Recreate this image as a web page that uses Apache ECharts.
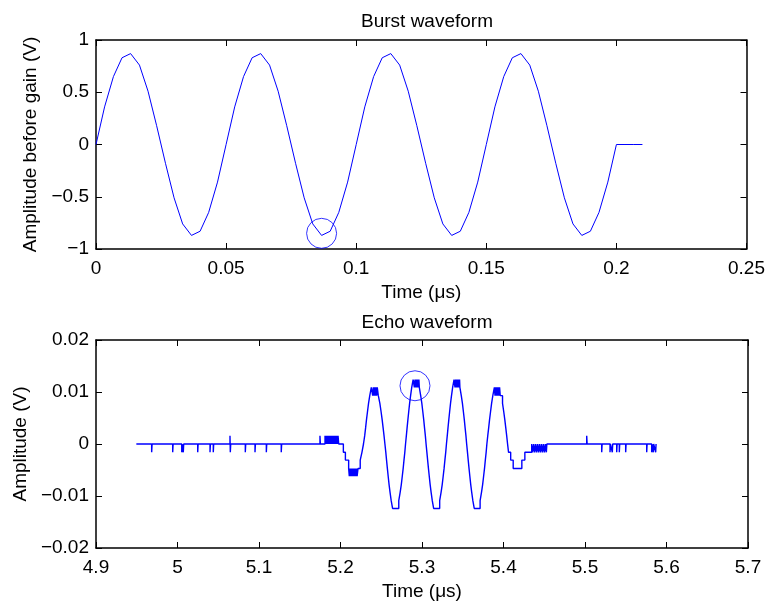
<!DOCTYPE html>
<html><head><meta charset="utf-8">
<script src="https://cdn.jsdelivr.net/npm/echarts/dist/echarts.min.js"></script>
<style>html,body{margin:0;padding:0;background:#fff}#c{width:768px;height:603px}</style>
</head><body><div id="c"></div>
<script>
// ---------- Burst waveform (top) ----------
const burstTime = [
  0.0000, 0.0033, 0.0067, 0.0100, 0.0133, 0.0167, 0.0200, 0.0233, 0.0267, 0.0300,
  0.0333, 0.0367, 0.0400, 0.0433, 0.0467, 0.0500, 0.0533, 0.0567, 0.0600, 0.0633,
  0.0667, 0.0700, 0.0733, 0.0767, 0.0800, 0.0833, 0.0867, 0.0900, 0.0933, 0.0967,
  0.1000, 0.1033, 0.1067, 0.1100, 0.1133, 0.1167, 0.1200, 0.1233, 0.1267, 0.1300,
  0.1333, 0.1367, 0.1400, 0.1433, 0.1467, 0.1500, 0.1533, 0.1567, 0.1600, 0.1633,
  0.1667, 0.1700, 0.1733, 0.1767, 0.1800, 0.1833, 0.1867, 0.1900, 0.1933, 0.1967,
  0.2000, 0.2033, 0.2067, 0.2100
];
const burstAmp = [
  0.00, 0.36, 0.65, 0.83, 0.87, 0.76, 0.51, 0.18, -0.18, -0.51,
  -0.76, -0.87, -0.83, -0.65, -0.36, 0.00, 0.36, 0.65, 0.83, 0.87,
  0.76, 0.51, 0.18, -0.18, -0.51, -0.76, -0.87, -0.83, -0.65, -0.36,
  0.00, 0.36, 0.65, 0.83, 0.87, 0.76, 0.51, 0.18, -0.18, -0.51,
  -0.76, -0.87, -0.83, -0.65, -0.36, 0.00, 0.36, 0.65, 0.83, 0.87,
  0.76, 0.51, 0.18, -0.18, -0.51, -0.76, -0.87, -0.83, -0.65, -0.36,
  0.00, 0.00, 0.00, 0.00
];
const burstMarkT = [0.0867];
const burstMarkV = [-0.85];
const burstXTicks = [0, 0.05, 0.1, 0.15, 0.2, 0.25];
const burstYTicks = [-1, -0.5, 0, 0.5, 1];

// ---------- Echo waveform (bottom), [time µs, amplitude V] ----------
const echoLead = [
  [4.9495, 0], [4.9683, -0.0016], [4.9688, 0], [4.9941, -0.0016], [4.9946, 0],
  [5.0052, -0.0016], [5.0057, 0], [5.0071, -0.0016], [5.0076, 0],
  [5.0248, -0.0016], [5.0253, 0], [5.0399, -0.0016], [5.0404, 0],
  [5.0439, -0.0016], [5.0444, 0], [5.0644, 0.0016], [5.0648, -0.0016], [5.0653, 0],
  [5.0832, -0.0016], [5.0837, 0], [5.0951, -0.0016], [5.0956, 0],
  [5.1090, -0.0016], [5.1095, 0], [5.1273, -0.0016], [5.1278, 0],
  [5.1748, 0.0016], [5.1753, 0],
  [5.1810, 0.0016], [5.1818, 0], [5.1826, 0.0016], [5.1834, 0], [5.1842, 0.0016],
  [5.1850, 0], [5.1858, 0.0016], [5.1866, 0], [5.1874, 0.0016], [5.1882, 0],
  [5.1890, 0.0016], [5.1898, 0], [5.1906, 0.0016], [5.1914, 0], [5.1922, 0.0016],
  [5.1930, 0], [5.1938, 0.0016], [5.1946, 0], [5.1954, 0.0016], [5.1962, 0],
  [5.1970, 0.0016], [5.1978, 0]
];
const echoBurst = [
  [5.2035, -0.0016], [5.2060, -0.0031], [5.2100, -0.0047],
  [5.2108, -0.0062], [5.2116, -0.0047], [5.2124, -0.0062], [5.2132, -0.0047],
  [5.2140, -0.0062], [5.2148, -0.0047], [5.2156, -0.0062], [5.2164, -0.0047],
  [5.2172, -0.0062], [5.2180, -0.0047], [5.2188, -0.0062], [5.2196, -0.0047],
  [5.2204, -0.0062], [5.2215, -0.0047],
  [5.2242, -0.0031], [5.2263, -0.0016], [5.2282, 0], [5.2297, 0.0016], [5.2308, 0.0031],
  [5.2319, 0.0047], [5.2331, 0.0062], [5.2344, 0.0078], [5.2359, 0.0093], [5.2378, 0.0109],
  [5.2395, 0.0093], [5.2403, 0.0109], [5.2411, 0.0093], [5.2419, 0.0109], [5.2427, 0.0093],
  [5.2435, 0.0109], [5.2443, 0.0093], [5.2451, 0.0109],
  [5.2464, 0.0093], [5.2483, 0.0078], [5.2498, 0.0062], [5.2511, 0.0047], [5.2523, 0.0031],
  [5.2534, 0.0016], [5.2545, 0], [5.2556, -0.0016], [5.2565, -0.0031], [5.2575, -0.0047],
  [5.2585, -0.0062], [5.2596, -0.0078], [5.2608, -0.0093], [5.2622, -0.0109], [5.2639, -0.0124],
  [5.2715, -0.0109], [5.2732, -0.0093], [5.2746, -0.0078], [5.2758, -0.0062], [5.2769, -0.0047],
  [5.2779, -0.0031], [5.2789, -0.0016], [5.2798, 0], [5.2808, 0.0016], [5.2817, 0.0031],
  [5.2827, 0.0047], [5.2837, 0.0062], [5.2848, 0.0078], [5.2860, 0.0093], [5.2874, 0.0109],
  [5.2891, 0.0124], [5.2906, 0.0109], [5.2914, 0.0124], [5.2922, 0.0109], [5.2930, 0.0124],
  [5.2938, 0.0109], [5.2946, 0.0124], [5.2954, 0.0109], [5.2962, 0.0124],
  [5.2967, 0.0109], [5.2984, 0.0093], [5.2998, 0.0078], [5.3010, 0.0062], [5.3021, 0.0047],
  [5.3031, 0.0031], [5.3041, 0.0016], [5.3050, 0], [5.3060, -0.0016], [5.3069, -0.0031],
  [5.3079, -0.0047], [5.3089, -0.0062], [5.3100, -0.0078], [5.3112, -0.0093], [5.3126, -0.0109],
  [5.3143, -0.0124],
  [5.3217, -0.0109], [5.3234, -0.0093], [5.3248, -0.0078], [5.3260, -0.0062], [5.3271, -0.0047],
  [5.3281, -0.0031], [5.3291, -0.0016], [5.3300, 0], [5.3310, 0.0016], [5.3319, 0.0031],
  [5.3329, 0.0047], [5.3339, 0.0062], [5.3350, 0.0078], [5.3362, 0.0093], [5.3376, 0.0109],
  [5.3393, 0.0124], [5.3405, 0.0109], [5.3413, 0.0124], [5.3421, 0.0109], [5.3429, 0.0124],
  [5.3437, 0.0109], [5.3445, 0.0124], [5.3453, 0.0109], [5.3461, 0.0124],
  [5.3465, 0.0109], [5.3482, 0.0093], [5.3496, 0.0078], [5.3508, 0.0062], [5.3519, 0.0047],
  [5.3529, 0.0031], [5.3539, 0.0016], [5.3548, 0], [5.3558, -0.0016], [5.3567, -0.0031],
  [5.3577, -0.0047], [5.3587, -0.0062], [5.3598, -0.0078], [5.3610, -0.0093], [5.3624, -0.0109],
  [5.3641, -0.0124],
  [5.3713, -0.0109], [5.3730, -0.0093], [5.3744, -0.0078], [5.3756, -0.0062], [5.3767, -0.0047],
  [5.3777, -0.0031], [5.3787, -0.0016], [5.3796, 0], [5.3807, 0.0016], [5.3818, 0.0031],
  [5.3829, 0.0047], [5.3841, 0.0062], [5.3854, 0.0078], [5.3869, 0.0093], [5.3888, 0.0109],
  [5.3896, 0.0093], [5.3904, 0.0109], [5.3912, 0.0093], [5.3920, 0.0109], [5.3928, 0.0093],
  [5.3936, 0.0109], [5.3944, 0.0093], [5.3952, 0.0109], [5.3960, 0.0093],
  [5.3988, 0.0078], [5.4003, 0.0062], [5.4016, 0.0047], [5.4028, 0.0031], [5.4039, 0.0016],
  [5.4050, 0], [5.4062, -0.0016], [5.4088, -0.0031], [5.4119, -0.0047],
  [5.4225, -0.0031], [5.4262, -0.0016]
];
const echoTail = [
  [5.4346, 0], [5.4358, -0.0016], [5.4370, 0], [5.4382, -0.0016], [5.4394, 0],
  [5.4406, -0.0016], [5.4418, 0], [5.4430, -0.0016], [5.4442, 0], [5.4454, -0.0016],
  [5.4466, 0], [5.4478, -0.0016], [5.4490, 0], [5.4502, -0.0016], [5.4514, 0],
  [5.4526, -0.0016], [5.4532, 0],
  [5.5021, 0.0016], [5.5026, 0], [5.5205, -0.0016], [5.5210, 0],
  [5.5307, -0.0016], [5.5312, 0], [5.5335, -0.0016], [5.5340, 0],
  [5.5389, -0.0016], [5.5394, 0], [5.5421, -0.0016], [5.5426, 0],
  [5.5499, -0.0016], [5.5504, 0], [5.5757, -0.0016], [5.5762, 0],
  [5.5818, -0.0016], [5.5823, 0], [5.5838, -0.0016], [5.5843, 0],
  [5.5867, -0.0016], [5.5872, 0], [5.5880, 0]
];
const echoMarkT = [5.2914];
const echoMarkV = [0.0112];
const echoXTicks = [4.9, 5, 5.1, 5.2, 5.3, 5.4, 5.5, 5.6, 5.7];
const echoYTicks = [-0.02, -0.01, 0, 0.01, 0.02];

// ---------- build ----------
const FONT = '"Liberation Sans", Arial, Helvetica, sans-serif';
const BLUE = '#0000ff';
const FS = 19;
const txt = {color: '#000', fontSize: FS, fontFamily: FONT};
const fmt = v => String(parseFloat(Number(v).toFixed(6))).replace('-', '\u2212');

function axis(kind, grid, ticks, pos, showLabel, extra) {
  const a = {
    type: 'value', gridIndex: grid, position: pos,
    min: ticks[0], max: ticks[ticks.length - 1], interval: ticks[1] - ticks[0],
    axisLine: {show: true, onZero: false, lineStyle: {color: '#000', width: 1.5}},
    axisTick: {show: true, inside: true, length: 6, lineStyle: {color: '#000', width: 1}},
    axisLabel: Object.assign({show: showLabel, formatter: fmt,
      margin: kind === 'x' ? 10 : 7}, txt),
    splitLine: {show: false}
  };
  return Object.assign(a, extra || {});
}

const burstData = burstTime.map((t, i) => [t, burstAmp[i]]);
const echoData = [].concat(echoLead, echoBurst, echoTail);

const option = {
  animation: false,
  backgroundColor: '#fff',
  title: [
    {text: 'Burst waveform', left: 422, top: 7, textAlign: 'center',
     textStyle: Object.assign({fontWeight: 'normal'}, txt)},
    {text: 'Echo waveform', left: 422, top: 308, textAlign: 'center',
     textStyle: Object.assign({fontWeight: 'normal'}, txt)}
  ],
  grid: [
    {left: 96, top: 40, width: 652, height: 209},
    {left: 96, top: 340, width: 652, height: 208}
  ],
  xAxis: [
    axis('x', 0, burstXTicks, 'bottom', true,
      {name: 'Time (\u03bcs)', nameLocation: 'middle', nameGap: 34, nameTextStyle: txt}),
    axis('x', 0, burstXTicks, 'top', false),
    axis('x', 1, echoXTicks, 'bottom', true,
      {name: 'Time (\u03bcs)', nameLocation: 'middle', nameGap: 34, nameTextStyle: txt}),
    axis('x', 1, echoXTicks, 'top', false)
  ],
  yAxis: [
    axis('y', 0, burstYTicks, 'left', true,
      {name: 'Amplitude before gain (V)', nameLocation: 'middle', nameGap: 55, nameTextStyle: txt}),
    axis('y', 0, burstYTicks, 'right', false),
    axis('y', 1, echoYTicks, 'left', true,
      {name: 'Amplitude (V)', nameLocation: 'middle', nameGap: 66, nameTextStyle: txt}),
    axis('y', 1, echoYTicks, 'right', false)
  ],
  series: [
    {type: 'line', xAxisIndex: 0, yAxisIndex: 0, data: burstData, symbol: 'none',
     lineStyle: {color: BLUE, width: 1}, silent: true},
    {type: 'scatter', xAxisIndex: 0, yAxisIndex: 0, clip: false,
     data: burstMarkT.map((t, i) => [t, burstMarkV[i]]),
     symbol: 'circle', symbolSize: 30,
     itemStyle: {color: 'rgba(0,0,0,0)', borderColor: BLUE, borderWidth: 1}, silent: true},
    {type: 'line', xAxisIndex: 2, yAxisIndex: 2, data: echoData, symbol: 'none', step: 'end',
     lineStyle: {color: BLUE, width: 1.4}, silent: true},
    {type: 'scatter', xAxisIndex: 2, yAxisIndex: 2, clip: false,
     data: echoMarkT.map((t, i) => [t, echoMarkV[i]]),
     symbol: 'circle', symbolSize: 30,
     itemStyle: {color: 'rgba(0,0,0,0)', borderColor: BLUE, borderWidth: 1}, silent: true}
  ]
};
const chart = echarts.init(document.getElementById('c'), null, {renderer: 'canvas'});
chart.setOption(option);
</script></body></html>
